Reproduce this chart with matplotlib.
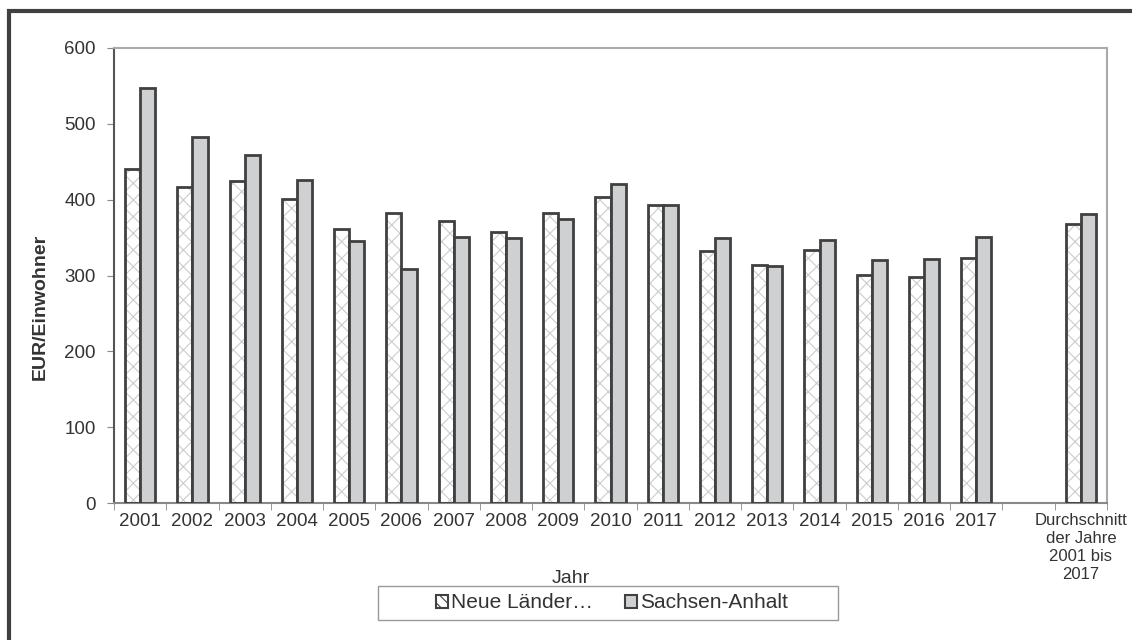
import numpy as np
import matplotlib
matplotlib.use("Agg")
import matplotlib.pyplot as plt
from matplotlib.patches import Patch, Rectangle

plt.rcParams["font.family"] = ["Liberation Sans", "DejaVu Sans"]
plt.rcParams["hatch.linewidth"] = 0.8

categories = [str(y) for y in range(2001, 2018)] + ["", "Durchschnitt\nder Jahre\n2001 bis\n2017"]
neue_laender = [441, 417, 425, 401, 361, 382, 372, 358, 383, 404, 393, 332,
                314, 334, 301, 298, 323, np.nan, 368]
sachsen_anhalt = [547, 482, 459, 426, 346, 309, 351, 349, 375, 420, 393, 349,
                  312, 347, 321, 322, 351, np.nan, 381]
series_names = ["Neue Länder…", "Sachsen-Anhalt"]

text_col = "#333333"
edge_col = "#404040"
gray_fill = "#cfd0d2"
W, H = 1132, 640

fig = plt.figure(figsize=(W / 100, H / 100), dpi=100)
ax = fig.add_axes([114 / W, 1 - 503 / H, 993 / W, 455 / H])

x = np.arange(len(categories))
w = 0.29
# hatched bars: light hatch first, dark outline on top
ax.bar(x - w / 2, neue_laender, w, color="white", edgecolor="#cccccc",
       hatch="xx", linewidth=0, zorder=2)
ax.bar(x - w / 2, neue_laender, w, facecolor="none", edgecolor=edge_col,
       linewidth=2, zorder=3)
ax.bar(x + w / 2, sachsen_anhalt, w, color=gray_fill, edgecolor=edge_col,
       linewidth=2, zorder=3)

ax.set_xlim(-0.5, len(categories) - 0.5)
ax.set_ylim(0, 600)
ax.set_yticks(range(0, 601, 100))
ax.set_xticks(x)
ax.set_xticklabels(categories, va="top", linespacing=1.27)
ax.set_xticks(np.arange(-0.5, len(categories)), minor=True)
ax.tick_params(axis="x", which="major", length=0, pad=7, labelsize=13.5,
               labelcolor=text_col)
ax.tick_params(axis="x", which="minor", length=5, color="#888888")
ax.tick_params(axis="y", length=5, color="#888888", labelsize=13.5,
               labelcolor=text_col, pad=8)
for lbl in ax.get_xticklabels():
    if lbl.get_text().startswith("Durch"):
        lbl.set_fontsize(12)

ax.spines["left"].set_color("#555555")
ax.spines["bottom"].set_color("#888888")
ax.spines["top"].set_color("#aaaaaa")
ax.spines["right"].set_color("#aaaaaa")
for s in ax.spines.values():
    s.set_linewidth(1.5)

ax.set_ylabel("EUR/Einwohner", fontsize=14, fontweight="bold", color=text_col)
ax.yaxis.set_label_coords((49 - 114) / 993, (503 - 307) / 455)
ax.set_xlabel("Jahr", fontsize=14, color=text_col)
ax.xaxis.set_label_coords((571 - 114) / 993, (503 - 570) / 455)

handles = [
    Patch(facecolor="white", edgecolor=edge_col, hatch="\\\\\\", linewidth=1.5),
    Patch(facecolor=gray_fill, edgecolor=edge_col, linewidth=1.5),
]
leg = fig.legend(handles, series_names, loc="center",
                 bbox_to_anchor=(612 / W, 1 - 603 / H), ncol=2,
                 fontsize=15, frameon=False,
                 handlelength=0.6, handleheight=0.6, handletextpad=0.15,
                 columnspacing=1.5)
for t in leg.get_texts():
    t.set_color(text_col)

# legend frame
fig.patches.append(Rectangle((378 / W, 1 - 620 / H), 460 / W, 34 / H,
                             transform=fig.transFigure, fill=False,
                             edgecolor="#999999", linewidth=1))
# outer border (top and left visible)
fig.patches.append(Rectangle((9 / W, -0.05), 1.1, 1 - 10.5 / H + 0.05,
                             transform=fig.transFigure, fill=False,
                             edgecolor="#404040", linewidth=3))

fig.savefig("out.png", dpi=100)
